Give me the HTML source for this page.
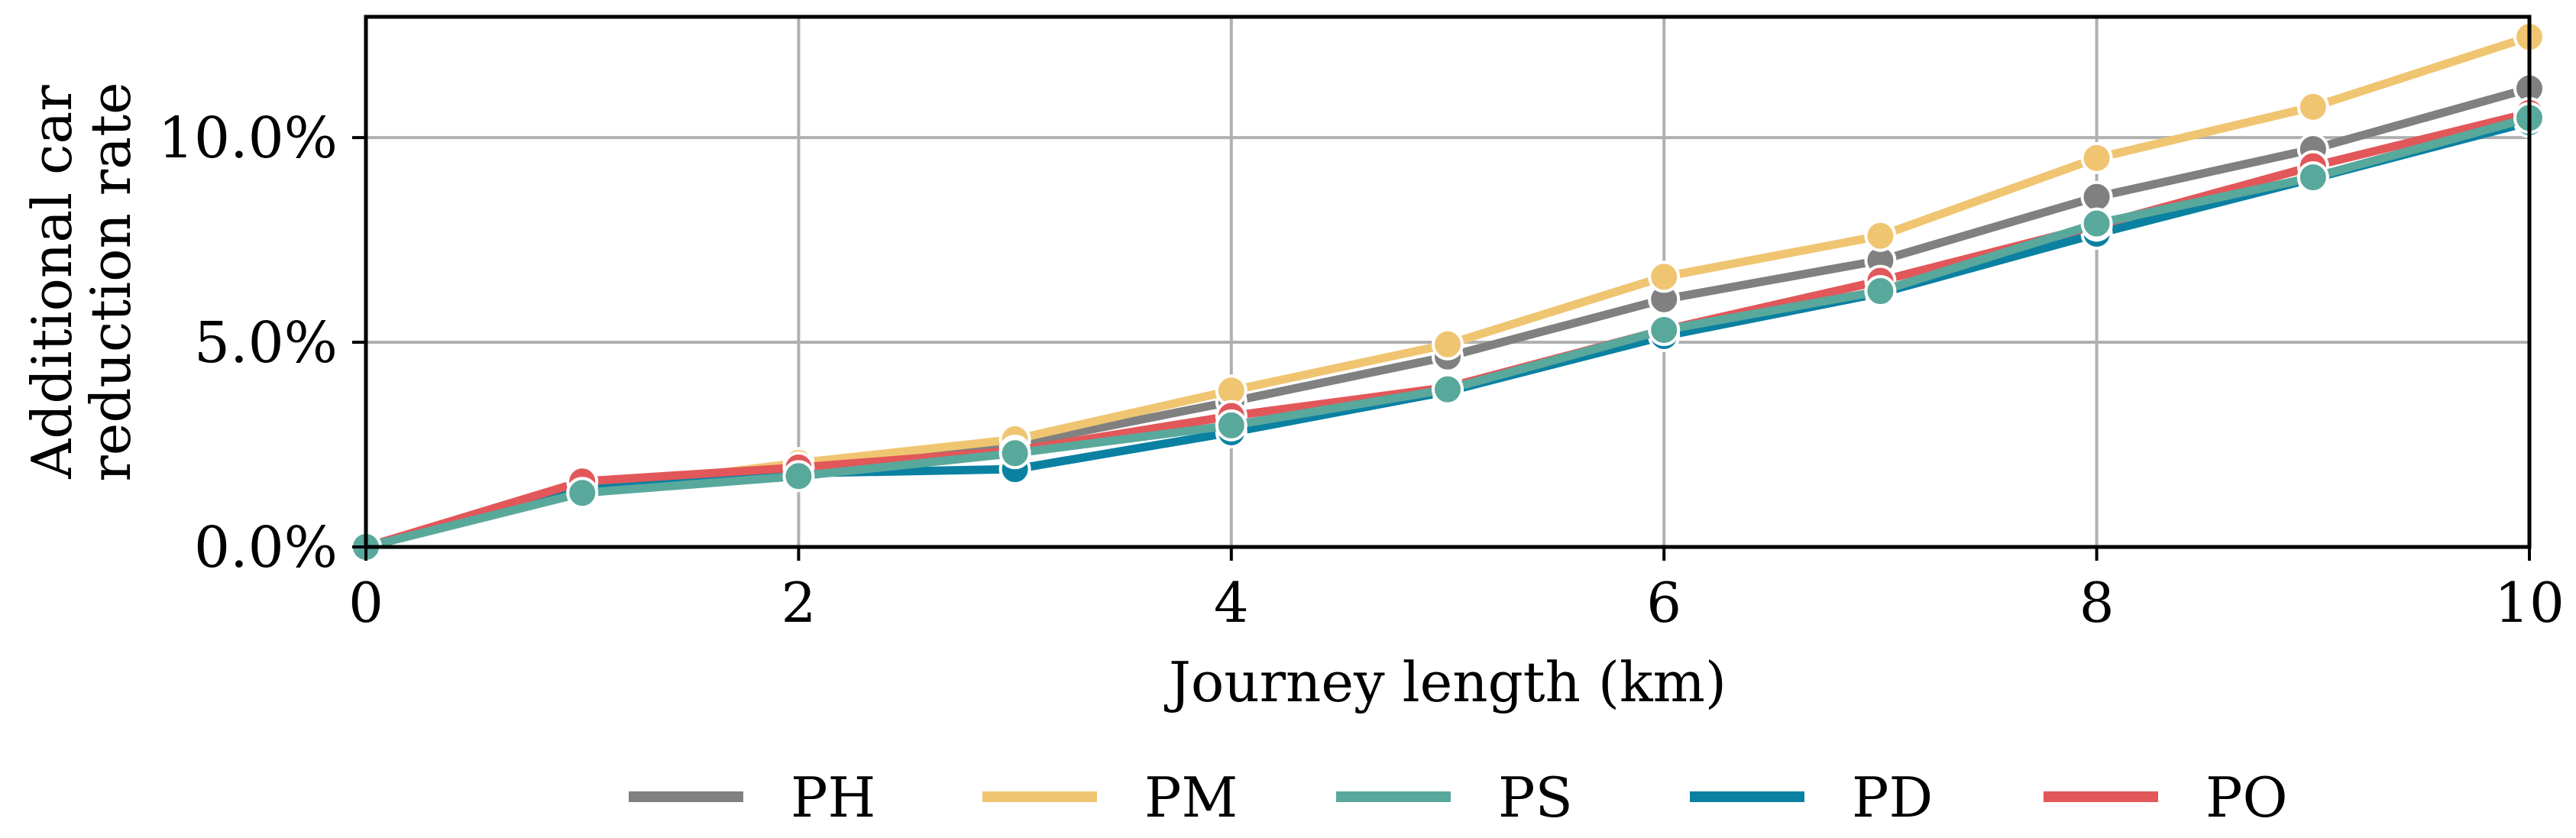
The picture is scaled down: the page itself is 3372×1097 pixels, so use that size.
<!DOCTYPE html>
<html><head><meta charset="utf-8"><style>
html,body{margin:0;padding:0;background:#fff;}
svg{display:block;font-family:"DejaVu Serif","Liberation Serif",serif;}
</style></head><body>
<svg id="chart" width="3372" height="1097" viewBox="0 0 3372 1097" xmlns="http://www.w3.org/2000/svg">
<g id="grid"></g>
<g id="series"></g>
<g id="axes"></g>
<text x="68" y="369" font-size="72" text-anchor="middle" dominant-baseline="central" transform="rotate(-90 68 369)">Additional car</text>
<text x="145" y="369" font-size="72" text-anchor="middle" dominant-baseline="central" transform="rotate(-90 145 369)">reduction rate</text>
<text x="1895" y="918" font-size="72" text-anchor="middle">Journey length (km)</text>
<g id="legend"></g>
</svg>
<script>
const xValues = [0,1,2,3,4,5,6,7,8,9,10];
const seriesNames = ["PH","PM","PD","PO","PS"];
const legendOrder = ["PH","PM","PS","PD","PO"];
const seriesColors = {PH:"#808080",PM:"#F0C571",PS:"#59A89C",PD:"#0B81A2",PO:"#E25759"};
const valuesPH = [0,1.4,1.95,2.5,3.55,4.65,6.05,7.0,8.55,9.72,11.2];
const valuesPM = [0,1.4,2.05,2.63,3.82,4.95,6.6,7.6,9.5,10.75,12.46];
const valuesPD = [0,1.4,1.8,1.9,2.8,3.8,5.15,6.2,7.65,9.0,10.38];
const valuesPO = [0,1.6,1.94,2.35,3.2,3.9,5.3,6.5,7.85,9.3,10.6];
const valuesPS = [0,1.32,1.73,2.29,2.97,3.85,5.3,6.25,7.9,9.03,10.48];
const xTicks = [0,2,4,6,8,10];
const yTicks = [0,5,10];
const yTickLabels = ["0.0%","5.0%","10.0%"];

const seriesData = {PH:valuesPH,PM:valuesPM,PD:valuesPD,PO:valuesPO,PS:valuesPS};
const L=479,R=3311,T=22,B=716,XMAX=10,YMAX=12.95;
const NS="http://www.w3.org/2000/svg";
function xs(v){return L+(v/XMAX)*(R-L);}
function ys(v){return B-(v/YMAX)*(B-T);}
function mk(tag,attrs,parent){const e=document.createElementNS(NS,tag);for(const k in attrs)e.setAttribute(k,attrs[k]);parent.appendChild(e);return e;}
const grid=document.getElementById('grid'),axes=document.getElementById('axes'),ser=document.getElementById('series'),leg=document.getElementById('legend');
xTicks.forEach(t=>{
  const g=mk('line',{x1:xs(t),x2:xs(t),y1:T,y2:B,stroke:'#b0b0b0','stroke-width':4},grid);
  
  
  const tk=mk('line',{x1:xs(t),x2:xs(t),y1:B,y2:B+18,stroke:'#000','stroke-width':4},axes);
  
  
  const tl=mk('text',{x:xs(t),y:814,'font-size':72,'text-anchor':'middle'},axes);
  tl.textContent=String(t);
  
  
});
yTicks.forEach((t,i)=>{
  const g=mk('line',{x1:L,x2:R,y1:ys(t),y2:ys(t),stroke:'#b0b0b0','stroke-width':4},grid);
  
  
  const tk=mk('line',{x1:L-18,x2:L,y1:ys(t),y2:ys(t),stroke:'#000','stroke-width':4},axes);
  
  
  const tl=mk('text',{x:442,y:ys(t)+26,'font-size':74,'text-anchor':'end'},axes);
  tl.textContent=yTickLabels[i];
  
  
});
const frame=mk('rect',{x:L,y:T,width:R-L,height:B-T,fill:'none',stroke:'#000','stroke-width':5},axes);


seriesNames.forEach(n=>{
  const vals=seriesData[n];
  const g=mk('g',{},ser);
  
  
  const pts=xValues.map((x,i)=>xs(x)+','+ys(vals[i])).join(' ');
  const pl=mk('polyline',{points:pts,fill:'none',stroke:seriesColors[n],'stroke-width':11,'stroke-linejoin':'round'},g);
  
  
  xValues.forEach((x,i)=>{
    const c=mk('circle',{cx:xs(x),cy:ys(vals[i]),r:19,fill:seriesColors[n],stroke:'#fff','stroke-width':4},g);
    
    
  });
});
legendOrder.forEach((n,i)=>{
  const x0=823+i*463;
  const g=mk('g',{},leg);
  
  
  mk('line',{x1:x0,x2:x0+150,y1:1043,y2:1043,stroke:seriesColors[n],'stroke-width':14},g);
  const t=mk('text',{x:x0+212,y:1069,'font-size':72},g);
  t.textContent=n;
});
</script>
</body></html>
